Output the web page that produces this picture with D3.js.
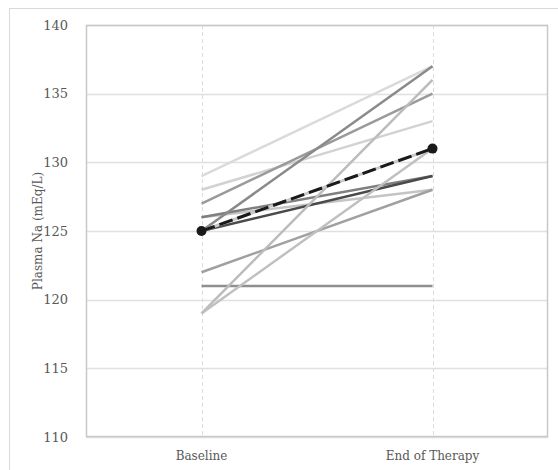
<!DOCTYPE html>
<html>
<head>
<meta charset="utf-8">
<script src="https://cdn.jsdelivr.net/npm/d3@7"></script>
<style>
  body { margin: 0; background: #fff; }
  svg text { font-family: "DejaVu Serif", "Liberation Serif", serif; fill: #595959; }
</style>
</head>
<body>
<div id="graphicContainer"></div>
<script>
// time points
const timepoints = ["Baseline", "End of Therapy"]

// individual patients: [baseline, end of therapy]
const baseline = [129, 128, 127, 126, 126, 125, 125, 122, 121, 119, 119]
const endTherapy = [137, 133, 135, 128, 129, 137, 129, 128, 121, 136, 131]
const lineGrays = ["#dadada", "#d2d2d2", "#9a9a9a", "#c4c4c4", "#7f7f7f", "#8a8a8a", "#4a4a4a", "#a0a0a0", "#8f8f8f", "#bcbcbc", "#c0c0c0"]

// mean
const meanValues = [125, 131]

const yTicks = [110, 115, 120, 125, 130, 135, 140]

const width = 558, height = 470
const margin = { left: 86, right: 10, top: 25, bottom: 33 }

const svg = d3.select("#graphicContainer").append("svg")
  .attr("width", width)
  .attr("height", height)

// chart frame
svg.append("rect")
  .attr("x", 9.5).attr("y", 8.5)
  .attr("width", 560).attr("height", 480)
  .attr("fill", "none")
  .attr("stroke", "#d9d9d9")

const x = d3.scaleBand()
  .domain(timepoints)
  .range([margin.left, width - margin.right])
  .padding(0)

const y = d3.scaleLinear()
  .domain([110, 140])
  .range([height - margin.bottom, margin.top])

const cx = d => x(d) + x.bandwidth() / 2

// gridlines
svg.append("g")
  .selectAll("line")
  .data(yTicks)
  .join("line")
  .attr("x1", margin.left).attr("x2", width - margin.right)
  .attr("y1", d => Math.round(y(d)) + 0.5).attr("y2", d => Math.round(y(d)) + 0.5)
  .attr("stroke", "#e0e0e0")
  .attr("stroke-width", 1.3)

// vertical dashed guides
svg.append("g")
  .selectAll("line")
  .data(timepoints)
  .join("line")
  .attr("x1", d => Math.round(cx(d)) + 0.5).attr("x2", d => Math.round(cx(d)) + 0.5)
  .attr("y1", margin.top).attr("y2", height - margin.bottom)
  .attr("stroke", "#dcdcdc")
  .attr("stroke-dasharray", "4 3")

// plot border
svg.append("rect")
  .attr("x", margin.left + 0.5).attr("y", margin.top + 0.5)
  .attr("width", width - margin.left - margin.right - 1)
  .attr("height", height - margin.top - margin.bottom - 1)
  .attr("fill", "none")
  .attr("stroke", "#c8c8c8")
  .attr("stroke-width", 1.5)

// y axis labels
const yAxis = d3.axisLeft(y).tickValues(yTicks).tickSize(0).tickPadding(18)
const gy = svg.append("g")
  .attr("transform", `translate(${margin.left},0)`)
  .call(yAxis)
gy.select(".domain").remove()
gy.selectAll("text")
  .style("font-size", "13px")
  .attr("fill", "#595959")

// x axis labels
const xAxis = d3.axisBottom(x).tickSize(0).tickPadding(14)
const gx = svg.append("g")
  .attr("transform", `translate(0,${height - margin.bottom})`)
  .call(xAxis)
gx.select(".domain").remove()
gx.selectAll("text")
  .style("font-size", "12px")
  .attr("fill", "#595959")

// axis title
svg.append("text")
  .attr("transform", `translate(42,${y(125)}) rotate(-90)`)
  .attr("text-anchor", "middle")
  .style("font-size", "12px")
  .text("Plasma Na (mEq/L)")

// patient lines
const patients = baseline.map((b, i) => ({ values: [b, endTherapy[i]], color: lineGrays[i] }))

svg.append("g")
  .selectAll("line")
  .data(patients)
  .join("line")
  .attr("x1", cx(timepoints[0]))
  .attr("x2", cx(timepoints[1]))
  .attr("y1", d => y(d.values[0]))
  .attr("y2", d => y(d.values[1]))
  .attr("stroke", d => d.color)
  .attr("stroke-width", 2.5)

// mean line
const meanG = svg.append("g")
meanG.append("line")
  .attr("x1", cx(timepoints[0])).attr("x2", cx(timepoints[1]))
  .attr("y1", y(meanValues[0])).attr("y2", y(meanValues[1]))
  .attr("stroke", "#c8c8c8")
  .attr("stroke-width", 3)
meanG.append("line")
  .attr("x1", cx(timepoints[0])).attr("x2", cx(timepoints[1]))
  .attr("y1", y(meanValues[0])).attr("y2", y(meanValues[1]))
  .attr("stroke", "#1a1a1a")
  .attr("stroke-width", 3)
  .attr("stroke-dasharray", "14 5")
meanG.selectAll("circle")
  .data(meanValues)
  .join("circle")
  .attr("cx", (d, i) => cx(timepoints[i]))
  .attr("cy", d => y(d))
  .attr("r", 5)
  .attr("fill", "#1a1a1a")
</script>
</body>
</html>
